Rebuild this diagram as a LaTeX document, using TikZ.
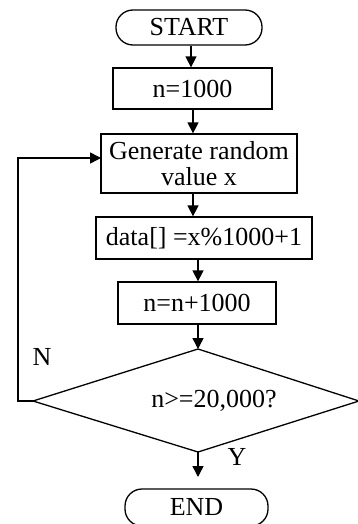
\documentclass[tikz,border=0pt]{standalone}
\usepackage{fontspec}
\setmainfont{Liberation Serif}
\usetikzlibrary{arrows.meta}
\begin{document}
\begin{tikzpicture}[x=1pt,y=1pt,
  every node/.style={font=\fontsize{26}{26}\selectfont, inner sep=0pt},
  box/.style={draw, line width=1.3pt},
  term/.style={draw, line width=1.3pt, rounded corners=17pt},
  arr/.style={line width=1.5pt, -{Triangle[width=11pt,length=11pt]}},
  ln/.style={line width=1.3pt}
]
\useasboundingbox (0,0) rectangle (358,-524);
\node[term, minimum width=146pt, minimum height=35pt] (start) at (189,-27.5) {START};
\node[box, minimum width=159pt, minimum height=41pt] (n1) at (192.5,-88.5) {n=1000};
\node[box, minimum width=196pt, minimum height=59pt, align=center] (gen) at (199,-163.5) {Generate random\\value x};
\node[box, minimum width=216pt, minimum height=42pt] (data) at (204,-238) {data[] =x\%1000+1};
\node[box, minimum width=158pt, minimum height=42pt] (inc) at (197,-303) {n=n+1000};
\coordinate (dt) at (198,-349);
\coordinate (dl) at (33,-401);
\coordinate (dr) at (359,-401);
\coordinate (db) at (198,-452);
\draw[ln] (dt) -- (dr) -- (db) -- (dl) -- cycle;
\node (cond) at (214,-401) {n>=20,000?};
\node[term, minimum width=143pt, minimum height=37pt] (end) at (196.5,-507.5) {END};
\coordinate (ax1) at (191,0);
\coordinate (ax2) at (193,0);
\coordinate (ax3) at (198,0);
\draw[arr] (ax1 |- start.south) -- (ax1 |- n1.north);
\draw[arr] (ax2 |- n1.south) -- (ax2 |- gen.north);
\draw[arr] (ax2 |- gen.south) -- (ax2 |- data.north);
\draw[arr] (ax3 |- data.south) -- (ax3 |- inc.north);
\draw[arr] (ax3 |- inc.south) -- (dt);
\coordinate (yend) at (198,-477);
\draw[arr] (db) -- (yend);
\coordinate (lc) at (18,-401);
\coordinate (loopin) at (101,-158);
\draw[arr] (dl) -- (lc) |- (loopin);
\node (nlab) at (42,-357) {N};
\node (ylab) at (237,-457) {Y};
\end{tikzpicture}
\end{document}
